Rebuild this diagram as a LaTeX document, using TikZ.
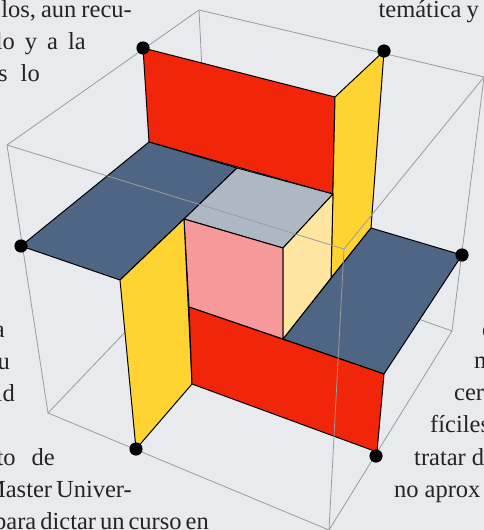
\documentclass[tikz,border=0pt]{standalone}
\usepackage{fontspec}
\setmainfont{Liberation Serif}
\definecolor{bg}{RGB}{233,234,238}
\definecolor{redf}{RGB}{240,37,10}
\definecolor{yelf}{RGB}{255,212,50}
\definecolor{bluef}{RGB}{78,102,132}
\definecolor{grayf}{RGB}{174,184,196}
\definecolor{pinkf}{RGB}{247,152,154}
\definecolor{palef}{RGB}{255,230,160}
\definecolor{boxl}{RGB}{155,155,155}
\definecolor{txt}{RGB}{35,35,40}
\tikzset{
 face/.style={draw=black,line width=1pt,line join=round},
 boxline/.style={draw=boxl,line width=0.8pt},
 dot/.style={fill=black},
 para/.style={font=\fontsize{24.5}{24.5}\selectfont,text=txt,inner sep=0pt}
}
\begin{document}
\begin{tikzpicture}[x=1pt,y=-1pt]
\useasboundingbox (0,0) rectangle (484,530);
\clip (0,0) rectangle (484,530);
\fill[bg] (0,0) rectangle (484,530);
% text
\node[para,anchor=base east] at (132,17) {\spaceskip=5pt los, aun recu-};
\node[para,anchor=base east] at (86,49) {\spaceskip=10pt lo y a la};
\node[para,anchor=base east] at (40,81) {\spaceskip=13pt s lo};
\node[para,anchor=base east] at (479,17) {\spaceskip=5pt temática y};
\node[para,anchor=base east] at (5,337) {a};
\node[para,anchor=base east] at (10,369) {u};
\node[para,anchor=base east] at (15,401) {ld};
\node[para,anchor=base east] at (55,465) {\spaceskip=16pt to de};
\node[para,anchor=base east] at (132,497) {\spaceskip=4pt Master Univer-};
\node[para,anchor=base east] at (209,529) {\spaceskip=4pt para dictar un curso en};
\node[para,anchor=base west] at (482,337) {e};
\node[para,anchor=base west] at (474,368) {m};
\node[para,anchor=base west] at (454,400) {cer};
\node[para,anchor=base west] at (430,432) {fíciles};
\node[para,anchor=base west] at (414,465) {\spaceskip=6pt tratar d};
\node[para,anchor=base west] at (394,497) {\spaceskip=6pt no aprox};
% box corners
\coordinate (tl) at (7,145);
\coordinate (tb) at (199,10);
\coordinate (tr) at (484,77);
\coordinate (tf) at (344,249);
\coordinate (bl) at (48,413);
\coordinate (bf) at (329,530);
\coordinate (br) at (452,331);
% rear box lines
\draw[boxline] (tb) -- (202,70);
\draw[boxline] (bl) -- (130,327);
\draw[boxline] (br) -- (410,316);
\draw[boxline] (tl) -- (tb) -- (tr) (tl) -- (bl) -- (bf) -- (br) -- (tr);
% faces
\coordinate (a1) at (143,48); \coordinate (a2) at (335,97); \coordinate (a3) at (333,194); \coordinate (a4) at (149,142);
\coordinate (y1) at (384,51); \coordinate (y2) at (371,228); \coordinate (y3) at (331,278);
\coordinate (b1) at (462,255); \coordinate (b2) at (384,374); \coordinate (c1) at (283,339);
\coordinate (c2) at (283,248); \coordinate (c3) at (184,219); \coordinate (c4) at (237,168); \coordinate (c5) at (189,307);
\coordinate (d1) at (21,246); \coordinate (d2) at (120,280);
\coordinate (e1) at (192,384); \coordinate (e2) at (136,449); \coordinate (e3) at (377,452);
\filldraw[face,fill=redf] (a1) -- (a2) -- (a3) -- (a4) -- cycle;
\filldraw[face,fill=yelf] (y1) -- (a2) -- (y3) -- (y2) -- cycle;
\filldraw[face,fill=bluef] (y2) -- (b1) -- (b2) -- (c1) -- cycle;
\filldraw[face,fill=bluef] (a4) -- (d1) -- (d2) -- (c3) -- (c4) -- cycle;
\filldraw[face,fill=grayf] (c4) -- (a3) -- (c2) -- (c3) -- cycle;
\filldraw[face,fill=pinkf] (c3) -- (c2) -- (c1) -- (c5) -- cycle;
\filldraw[face,fill=palef] (c2) -- (a3) -- (y3) -- (c1) -- cycle;
\filldraw[face,fill=yelf] (d2) -- (c3) -- (e1) -- (e2) -- cycle;
\filldraw[face,fill=redf] (c5) -- (b2) -- (e3) -- (e1) -- cycle;
% front box lines
\draw[boxline] (tl) -- (tf) -- (tr) (tf) -- (bf);
% dots
\foreach \p in {(143,48),(384,51),(21,246),(462,255),(136,449),(376,456)}
  \fill[dot] \p circle (6.6);
\end{tikzpicture}
\end{document}
